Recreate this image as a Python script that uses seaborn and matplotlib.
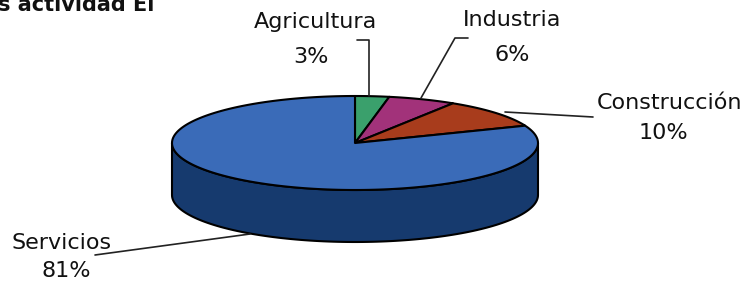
import numpy as np
import seaborn as sns
from matplotlib import pyplot as plt
from matplotlib.patches import Polygon

# data
sectors = ["Agricultura", "Industria", "Construcción", "Servicios"]
shares = [3, 6, 10, 81]
top_colors = ["#3aa06c", "#a2327a", "#a83c1c", "#3a6bb8"]
side_colors = ["#21623f", "#621c48", "#62220e", "#163a6e"]


def ell_pt(theta, cx, cy, a, b):
    # theta in degrees, clockwise from top
    t = np.radians(theta)
    return cx + a * np.sin(t), cy - b * np.cos(t)


sns.set_theme(style="white")
plt.rcParams['font.family'] = ['DejaVu Sans']

fig = plt.figure(figsize=(7.49, 2.81), dpi=100)
ax = fig.add_axes([0, 0, 1, 1])
ax.set_xlim(0, 749)
ax.set_ylim(281, 0)
ax.axis("off")

cx, cy, a, b, depth = 355, 143, 183, 47, 52

bounds = np.concatenate([[0], np.cumsum(shares)]) * 3.6

# side (front half visible: theta 90..270)
for i in range(len(shares)):
    lo, hi = max(bounds[i], 90), min(bounds[i + 1], 270)
    if hi <= lo:
        continue
    th = np.linspace(lo, hi, 120)
    xs, ys = ell_pt(th, cx, cy, a, b)
    pts = list(zip(xs, ys)) + list(zip(xs[::-1], ys[::-1] + depth))
    ax.add_patch(Polygon(pts, closed=True, fc=side_colors[i], ec="black", lw=1.5))

# top face
for i in range(len(shares)):
    th = np.linspace(bounds[i], bounds[i + 1], 200)
    xs, ys = ell_pt(th, cx, cy, a, b)
    pts = [(cx, cy)] + list(zip(xs, ys))
    ax.add_patch(Polygon(pts, closed=True, fc=top_colors[i], ec="black", lw=1.5, joinstyle="round"))

fs = 16
# labels with leader lines
labels = [
    (315, 22, 311, 57, [(369, 96), (369, 40), (357, 40)]),
    (512, 20, 512, 55, [(421, 98), (455, 38), (468, 38)]),
    (670, 103, 663, 133, [(505, 112), (593, 117)]),
    (62, 243, 66, 271, [(250, 234), (95, 255)]),
]
for (name, val, (lx, ly, px, py, leader)) in zip(sectors, shares, labels):
    ax.text(lx, ly, name, ha="center", va="center", fontsize=fs, color="#111111")
    ax.text(px, py, f"{val}%", ha="center", va="center", fontsize=fs, color="#111111")
    lxs, lys = zip(*leader)
    ax.plot(lxs, lys, color="#222222", lw=1.2)

# cut-off title fragment at the top
ax.text(-2, 11, "s actividad El", ha="left", va="baseline", fontsize=15,
        fontweight="bold", color="#111111")

fig.savefig("out.png", dpi=100)
